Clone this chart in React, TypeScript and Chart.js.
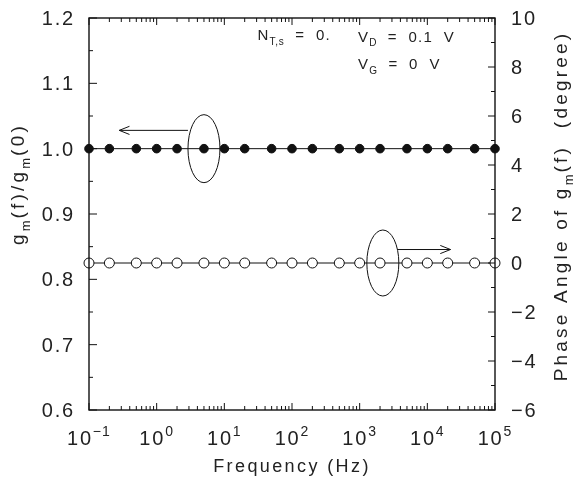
import React, { useEffect, useRef } from "react";
import { Chart, registerables } from "chart.js";
Chart.register(...registerables);

// ---- data ----
const frequencies = [0.1, 0.2, 0.5, 1, 2, 5, 10, 20, 50, 100, 200, 500, 1000, 2000, 5000, 10000, 20000, 50000, 100000];
const gmRatio = [1.0, 1.0, 1.0, 1.0, 1.0, 1.0, 1.0, 1.0, 1.0, 1.0, 1.0, 1.0, 1.0, 1.0, 1.0, 1.0, 1.0, 1.0, 1.0];
const phaseAngle = [0, 0, 0, 0, 0, 0, 0, 0, 0, 0, 0, 0, 0, 0, 0, 0, 0, 0, 0];
const xDecades = [-1, 0, 1, 2, 3, 4, 5];
const leftTicks = [0.6, 0.7, 0.8, 0.9, 1.0, 1.1, 1.2];
const rightTicks = [-6, -4, -2, 0, 2, 4, 6, 8, 10];

const FONT = '"Liberation Sans", Arial, sans-serif';
const INK = "#111";
const TEXT = "#222";

type Part = { t: string; s?: "sub" | "sup" };

function partFont(size: number, p: Part) {
  const sz = p.s ? Math.round(size * 0.68) : size;
  return `${sz}px ${FONT}`;
}
function richWidth(ctx: CanvasRenderingContext2D, parts: Part[], size: number, sp: number) {
  let w = 0;
  for (const p of parts) {
    ctx.font = partFont(size, p);
    (ctx as any).letterSpacing = `${p.s ? sp * 0.6 : sp}px`;
    w += ctx.measureText(p.t).width;
  }
  return w;
}
function drawRich(
  ctx: CanvasRenderingContext2D,
  parts: Part[],
  x: number,
  y: number,
  size: number,
  sp: number,
  align: "left" | "center" | "right"
) {
  const w = richWidth(ctx, parts, size, sp);
  let cx = align === "left" ? x : align === "center" ? x - w / 2 : x - w;
  ctx.textAlign = "left";
  ctx.textBaseline = "alphabetic";
  for (const p of parts) {
    ctx.font = partFont(size, p);
    (ctx as any).letterSpacing = `${p.s ? sp * 0.6 : sp}px`;
    const dy = p.s === "sup" ? -size * 0.45 : p.s === "sub" ? size * 0.32 : 0;
    ctx.fillText(p.t, cx, y + dy);
    cx += ctx.measureText(p.t).width;
  }
  (ctx as any).letterSpacing = "0px";
}

function openArrow(ctx: CanvasRenderingContext2D, x1: number, y1: number, x2: number, y2: number) {
  ctx.beginPath();
  ctx.moveTo(x1, y1);
  ctx.lineTo(x2, y2);
  const ang = Math.atan2(y2 - y1, x2 - x1);
  const L = 11;
  const a = 0.38;
  ctx.moveTo(x2 - L * Math.cos(ang - a), y2 - L * Math.sin(ang - a));
  ctx.lineTo(x2, y2);
  ctx.lineTo(x2 - L * Math.cos(ang + a), y2 - L * Math.sin(ang + a));
  ctx.stroke();
}

const decorPlugin = {
  id: "decor",
  afterDatasetsDraw(chart: any) {
    const ctx: CanvasRenderingContext2D = chart.ctx;
    const { left, right, top, bottom } = chart.chartArea;
    const xs = chart.scales.x;
    const yl = chart.scales.y;
    const yr = chart.scales.y1;
    ctx.save();
    ctx.strokeStyle = INK;
    ctx.fillStyle = TEXT;
    ctx.lineWidth = 1.4;
    // frame
    ctx.strokeRect(left, top, right - left, bottom - top);
    ctx.lineWidth = 1;
    ctx.beginPath();
    // x ticks (top & bottom, inward)
    for (let d = xDecades[0]; d <= xDecades[xDecades.length - 1]; d++) {
      for (let m = 1; m <= 9; m++) {
        const v = m * Math.pow(10, d);
        if (v > Math.pow(10, xDecades[xDecades.length - 1]) * 1.0001) break;
        const px = xs.getPixelForValue(v);
        const len = m === 1 ? 7 : 4;
        ctx.moveTo(px, bottom);
        ctx.lineTo(px, bottom - len);
        ctx.moveTo(px, top);
        ctx.lineTo(px, top + len);
      }
    }
    // left ticks
    for (let i = 0; i <= 12; i++) {
      const v = 0.6 + i * 0.05;
      const py = yl.getPixelForValue(v);
      const len = i % 2 === 0 ? 8 : 4;
      ctx.moveTo(left, py);
      ctx.lineTo(left + len, py);
    }
    // right ticks
    for (let v = -6; v <= 10; v++) {
      const py = yr.getPixelForValue(v);
      const len = v % 2 === 0 ? 7 : 4;
      ctx.moveTo(right, py);
      ctx.lineTo(right - len, py);
    }
    ctx.stroke();

    // tick labels
    for (const v of leftTicks) {
      const py = yl.getPixelForValue(v);
      drawRich(ctx, [{ t: v.toFixed(1) }], left - 14, py + 7, 20, 1.8, "right");
    }
    for (const v of rightTicks) {
      const py = yr.getPixelForValue(v);
      const s = v < 0 ? "\u2212" + Math.abs(v) : String(v);
      drawRich(ctx, [{ t: s }], right + 16, py + 7, 20, 1.8, "left");
    }
    for (const d of xDecades) {
      const px = xs.getPixelForValue(Math.pow(10, d));
      const e = d < 0 ? "\u2212" + Math.abs(d) : String(d);
      drawRich(ctx, [{ t: "10" }, { t: e, s: "sup" }], px, bottom + 35, 20, 1.8, "center");
    }

    // axis titles
    drawRich(ctx, [{ t: "Frequency (Hz)" }], (left + right) / 2, bottom + 62, 18, 2.4, "center");
    ctx.save();
    ctx.translate(24, 184);
    ctx.rotate(-Math.PI / 2);
    drawRich(
      ctx,
      [{ t: "g" }, { t: "m", s: "sub" }, { t: "(f)/g" }, { t: "m", s: "sub" }, { t: "(0)" }],
      0, 0, 19, 3.2, "center"
    );
    ctx.restore();
    ctx.save();
    ctx.translate(567, 206);
    ctx.rotate(-Math.PI / 2);
    drawRich(
      ctx,
      [{ t: "Phase Angle of g" }, { t: "m", s: "sub" }, { t: "(f)  (degree)" }],
      0, 0, 19, 3.2, "center"
    );
    ctx.restore();

    // annotations (anchored in data units)
    drawRich(ctx, [{ t: "N" }, { t: "T,s", s: "sub" }, { t: "  =  0." }], xs.getPixelForValue(31), yl.getPixelForValue(1.166), 15, 1.2, "left");
    drawRich(ctx, [{ t: "V" }, { t: "D", s: "sub" }, { t: "  =  0.1  V" }], xs.getPixelForValue(944), yl.getPixelForValue(1.164), 15, 1.2, "left");
    drawRich(ctx, [{ t: "V" }, { t: "G", s: "sub" }, { t: "  =  0  V" }], xs.getPixelForValue(944), yl.getPixelForValue(1.122), 15, 1.2, "left");

    ctx.lineWidth = 1;
    ctx.beginPath();
    ctx.ellipse(xs.getPixelForValue(5), yl.getPixelForValue(1.0), 16, 34, 0, 0, Math.PI * 2);
    ctx.stroke();
    openArrow(ctx, xs.getPixelForValue(2.9), yl.getPixelForValue(1.028), xs.getPixelForValue(0.28), yl.getPixelForValue(1.028));

    ctx.beginPath();
    ctx.ellipse(xs.getPixelForValue(2200), yr.getPixelForValue(0), 16, 33, 0, 0, Math.PI * 2);
    ctx.stroke();
    openArrow(ctx, xs.getPixelForValue(3600), yr.getPixelForValue(0.55), xs.getPixelForValue(22000), yr.getPixelForValue(0.55));
    ctx.restore();
  },
};

export default function App() {
  const ref = useRef<HTMLCanvasElement | null>(null);
  useEffect(() => {
    if (!ref.current) return;
    const chart = new Chart(ref.current, {
      type: "line",
      data: {
        datasets: [
          {
            label: "gm(f)/gm(0)",
            data: frequencies.map((f, i) => ({ x: f, y: gmRatio[i] })),
            yAxisID: "y",
            borderColor: INK,
            borderWidth: 1,
            backgroundColor: INK,
            pointBackgroundColor: INK,
            pointBorderColor: INK,
            pointRadius: 4.3,
            pointBorderWidth: 1,
            tension: 0,
            clip: false as any,
          },
          {
            label: "Phase angle",
            data: frequencies.map((f, i) => ({ x: f, y: phaseAngle[i] })),
            yAxisID: "y1",
            borderColor: INK,
            borderWidth: 1,
            backgroundColor: "#fff",
            pointBackgroundColor: "#fff",
            pointBorderColor: INK,
            pointRadius: 5,
            pointBorderWidth: 1,
            tension: 0,
            clip: false as any,
          },
        ],
      },
      options: {
        animation: false,
        responsive: true,
        maintainAspectRatio: false,
        layout: { padding: { top: 18, left: 0, right: 0, bottom: 0 } },
        plugins: { legend: { display: false }, tooltip: { enabled: false } },
        scales: {
          x: {
            type: "logarithmic",
            min: 0.1,
            max: 100000,
            grid: { display: false, drawTicks: false },
            border: { display: false },
            ticks: { display: false },
            afterFit: (s: any) => {
              s.height = 84;
            },
          },
          y: {
            type: "linear",
            position: "left",
            min: 0.6,
            max: 1.2,
            grid: { display: false, drawTicks: false },
            border: { display: false },
            ticks: { display: false },
            afterFit: (s: any) => {
              s.width = 89;
            },
          },
          y1: {
            type: "linear",
            position: "right",
            min: -6,
            max: 10,
            grid: { display: false, drawTicks: false },
            border: { display: false },
            ticks: { display: false },
            afterFit: (s: any) => {
              s.width = 78;
            },
          },
        },
      },
      plugins: [decorPlugin],
    });
    return () => chart.destroy();
  }, []);
  return (
    <div style={{ position: "fixed", left: 0, top: 0, width: 573, height: 494, background: "#fff" }}>
      <canvas ref={ref} />
    </div>
  );
}
